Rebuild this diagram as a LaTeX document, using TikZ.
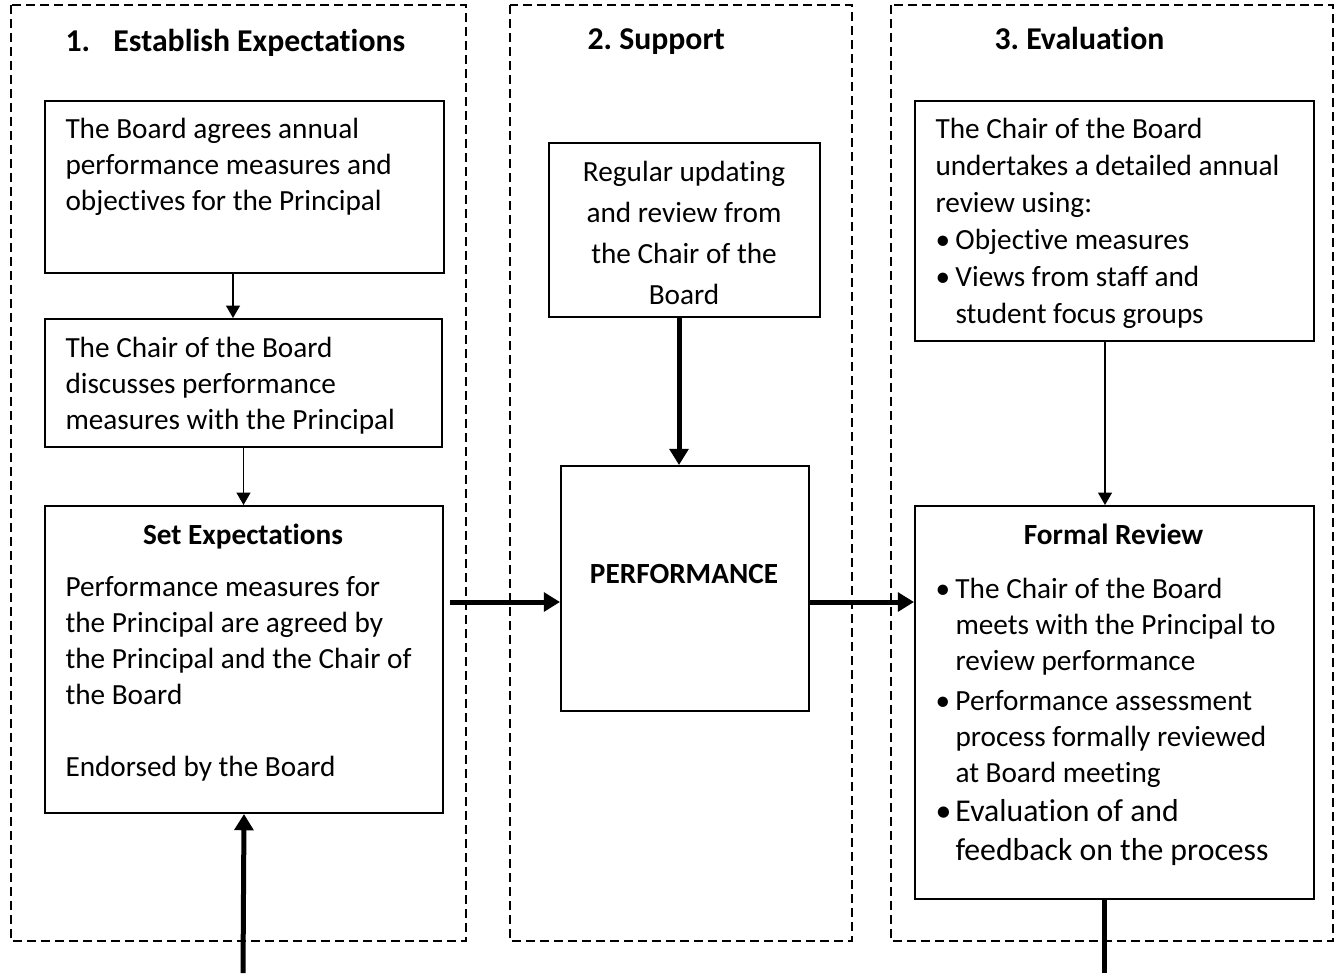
\documentclass[tikz,border=0pt]{standalone}
\usepackage{fontspec}
\setmainfont{Carlito}[Ligatures=NoCommon]
\usetikzlibrary{arrows.meta}
\frenchspacing
\newcommand\bodyfont{\fontsize{11.7pt}{14.4pt}\selectfont}
\newcommand\headfont{\fontsize{12.7pt}{15pt}\selectfont\bfseries}
\newcommand\bitem{\makebox[8pt][l]{\textbullet}}
\newcommand\bindent{\hspace*{8pt}}
\begin{document}
\begin{tikzpicture}[x=0.4pt, y=-0.4pt,
    panel/.style={draw, dash pattern=on 3.6pt off 2pt, line width=0.6pt},
    box/.style={draw, line width=0.8pt, anchor=north west, inner sep=0pt},
    txt/.style={anchor=north west, inner sep=0pt, align=flush left, font=\bodyfont},
    head/.style={anchor=base west, inner sep=0pt, font=\headfont},
    boxhead/.style={anchor=base, inner sep=0pt, font=\bodyfont\bfseries},
    thinarrow/.style={-{Triangle[width=5.6pt,length=5pt]}, line width=0.6pt},
    thickarrow/.style={-{Triangle[width=7.5pt,length=6.5pt]}, line width=2pt}]

    \useasboundingbox (0,0) rectangle (1338,973);

    % Paneles
    \draw[panel] (11,5) rectangle (466,941);
    \draw[panel] (510,5) rectangle (852,941);
    \draw[panel] (891,5) rectangle (1333,941);

    \node[head] (t1) at (65,51) {\makebox[19.2pt][l]{1.}Establish Expectations};
    \node[head] (t2) at (587,49) {2. Support};
    \node[head] (t3) at (994,49) {3. Evaluation};

    % Cajas
    \node[box, minimum width=159.6pt, minimum height=68.8pt] (agree) at (44,100) {};
    \node[box, minimum width=158.8pt, minimum height=51.2pt] (discuss) at (44,318) {};
    \node[box, minimum width=159.2pt, minimum height=122.8pt] (setexp) at (44,505) {};
    \node[box, minimum width=108.4pt, minimum height=69.6pt] (update) at (548,142) {};
    \node[box, minimum width=99.2pt, minimum height=98pt] (perf) at (560,465) {};
    \node[box, minimum width=159.6pt, minimum height=96pt] (annual) at (914,100) {};
    \node[box, minimum width=159.6pt, minimum height=157.2pt] (formal) at (914,505) {};

    % Textos
    \node[txt] (agreetxt) at (65,118) {The Board agrees annual\\performance measures and\\objectives for the Principal};
    \node[txt] (discusstxt) at (65,337) {The Chair of the Board\\discusses performance\\measures with the Principal};
    \node[boxhead] (setexphead) at (243,544) {Set Expectations};
    \node[txt] (setexptxt) at (65,576) {Performance measures for\\the Principal are agreed by\\the Principal and the Chair of\\the Board\\[14.4pt]Endorsed by the Board};
    \node[txt, anchor=north, align=center, font=\fontsize{11.7pt}{16.4pt}\selectfont] (updatetxt) at (684,161) {Regular updating\\and review from\\the Chair of the\\Board};
    \node[boxhead] (perftxt) at (684,583) {PERFORMANCE};
    \node[txt, font=\fontsize{11.7pt}{14.8pt}\selectfont] (annualtxt) at (935,118) {The Chair of the Board\\undertakes a detailed annual\\review using:\\\bitem Objective measures\\\bitem Views from staff and\\\bindent student focus groups};
    \node[boxhead] (formalhead) at (1113.5,544) {Formal Review};
    \node[txt, text width=152pt] (formaltxt) at (935,578) {\bitem The Chair of the Board\\\bindent meets with the Principal to\\\bindent review performance\\[1.6pt]\bitem Performance assessment\\\bindent process formally reviewed\\\bindent at Board meeting\par
      {\fontsize{12.7pt}{15.6pt}\selectfont\bitem Evaluation of and\\\bindent feedback on the process\par}};

    % Flechas
    \coordinate (a1) at ([xshift=-4.6pt]agree.south);
    \draw[thinarrow] (a1) -- (a1 |- discuss.north);
    \draw[thinarrow] (discuss.south) -- (discuss.south |- setexp.north);
    \coordinate (entry) at (243,973);
    \draw[thickarrow] (entry) -- (setexp.south);

    \coordinate (perfin) at ([yshift=-5.4pt]perf.west);
    \coordinate (cout) at (setexp.east |- perfin);
    \draw[thickarrow] ([xshift=2.4pt]cout) -- (perfin);
    \draw[thickarrow] (perf.east |- perfin) -- (formal.west |- perfin);

    \coordinate (u1) at ([xshift=-2.2pt]update.south);
    \draw[thickarrow] (u1) -- (u1 |- perf.north);

    \coordinate (g1) at ([xshift=-3.8pt]annual.south);
    \draw[thinarrow] (g1) -- (g1 |- formal.north);
    \coordinate (exit) at (1104,973);
    \draw[line width=2pt] (formal.south -| exit) -- (exit);
\end{tikzpicture}
\end{document}
